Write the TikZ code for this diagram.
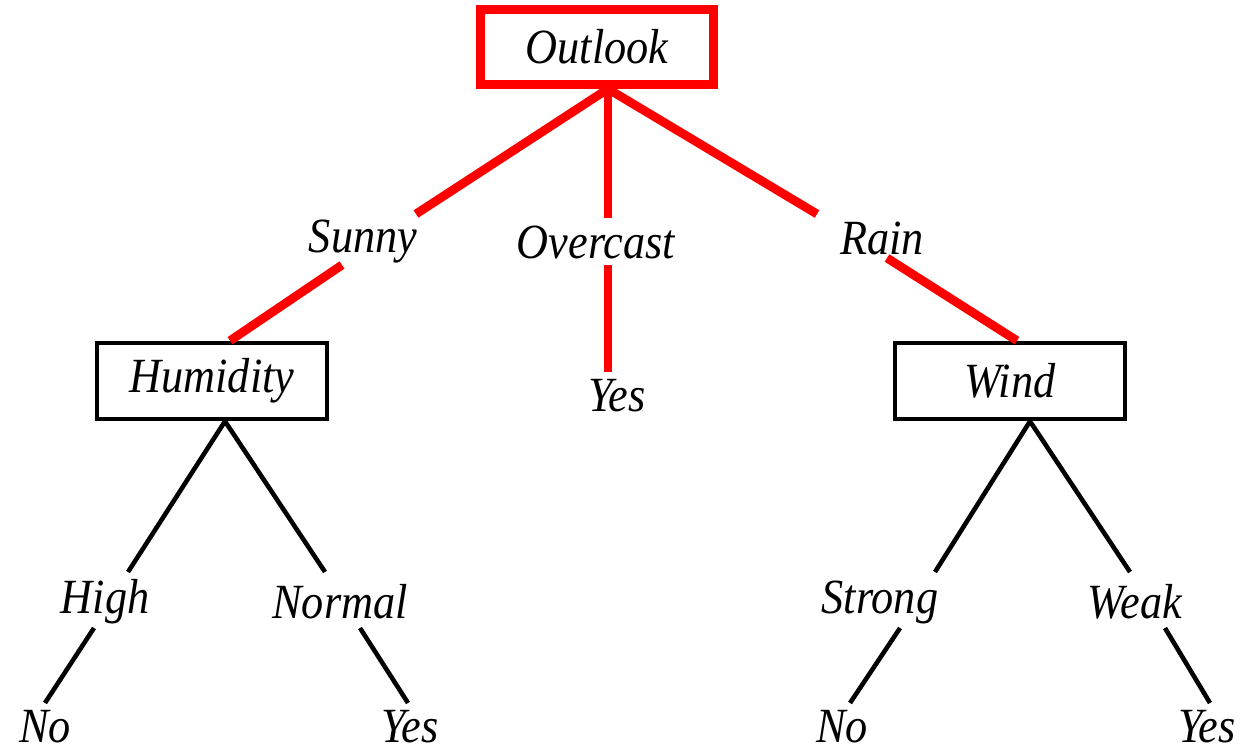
\documentclass[tikz,border=0pt]{standalone}
\usepackage{fontspec}
\setmainfont{Liberation Serif}[FakeStretch=0.9]
\tikzset{
  every node/.style={font=\fontsize{28}{32}\selectfont\itshape, inner sep=0pt},
  redbox/.style={draw=red, line width=5pt, minimum width=4.65cm, minimum height=1.5cm},
  attrbox/.style={draw=black, line width=2.6pt, minimum width=4.6cm, minimum height=1.52cm},
  redline/.style={red, line width=5pt},
  blackline/.style={black, line width=2.6pt}
}
\begin{document}
\begin{tikzpicture}[x=0.02cm,y=-0.02cm]
\useasboundingbox (0,0) rectangle (1241,749);
% nodes
\node[redbox] (outlook) at (597,47) {Outlook};
\node (sunny) at (363,242) {Sunny};
\node (overcast) at (596,242) {Overcast};
\node (rain) at (882,238) {Rain};
\node[attrbox] (humidity) at (212,381) {Humidity};
\node (yesO) at (617,396) {Yes};
\node[attrbox] (wind) at (1010,381) {Wind};
\node (high) at (105,602) {High};
\node (normal) at (340,602) {Normal};
\node (strong) at (880,602) {Strong};
\node (weak) at (1135,602) {Weak};
\node (noH) at (45,727) {No};
\node (yesN) at (410,727) {Yes};
\node (noS) at (842,727) {No};
\node (yesW) at (1207,727) {Yes};
% line ends beside the labels
\coordinate (sunny in) at (416,214);
\coordinate (sunny out) at (342,265);
\coordinate (over in) at (608,218);
\coordinate (over out) at (608,265);
\coordinate (rain in) at (817,214);
\coordinate (rain out) at (887,258);
\coordinate (yes top) at (608,372);
\coordinate (high in) at (128,572);
\coordinate (high out) at (94,628);
\coordinate (no left) at (45,703);
\coordinate (normal in) at (325,572);
\coordinate (normal out) at (360,628);
\coordinate (yes left) at (408,703);
\coordinate (strong in) at (935,572);
\coordinate (strong out) at (900,628);
\coordinate (no right) at (850,703);
\coordinate (weak in) at (1130,572);
\coordinate (weak out) at (1165,628);
\coordinate (yes right) at (1210,703);
% red path
\draw[redline] ([xshift=11*0.02cm]outlook.south) -- (sunny in);
\draw[redline] ([xshift=11*0.02cm]outlook.south) -- (over in);
\draw[redline] ([xshift=11*0.02cm]outlook.south) -- (rain in);
\draw[redline] (sunny out) -- ([xshift=18*0.02cm]humidity.north);
\draw[redline] (over out) -- (yes top);
\draw[redline] (rain out) -- ([xshift=7*0.02cm]wind.north);
% black branches
\draw[blackline] ([xshift=13*0.02cm]humidity.south) -- (high in);
\draw[blackline] ([xshift=13*0.02cm]humidity.south) -- (normal in);
\draw[blackline] (high out) -- (no left);
\draw[blackline] (normal out) -- (yes left);
\draw[blackline] ([xshift=20*0.02cm]wind.south) -- (strong in);
\draw[blackline] ([xshift=20*0.02cm]wind.south) -- (weak in);
\draw[blackline] (strong out) -- (no right);
\draw[blackline] (weak out) -- (yes right);
\end{tikzpicture}
\end{document}
